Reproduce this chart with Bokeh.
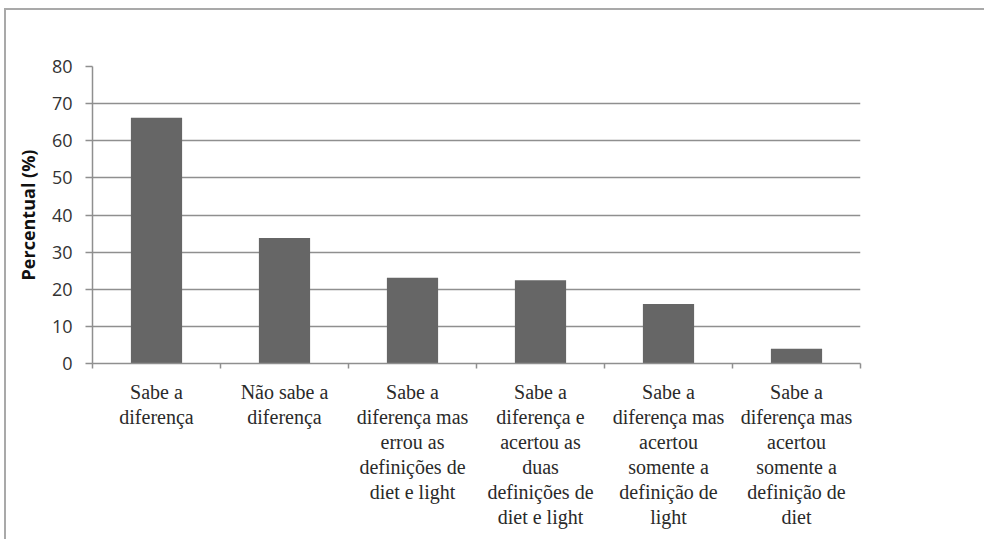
from bokeh.plotting import figure
from bokeh.models import Range1d, FixedTicker, LinearAxis, CustomJSTickFormatter
from bokeh.embed import file_html
from bokeh.resources import INLINE

# Response categories (one label per bar, wrapped as printed under the axis)
categories = [
    "Sabe a\ndiferença",
    "Não sabe a\ndiferença",
    "Sabe a\ndiferença mas\nerrou as\ndefinições de\ndiet e light",
    "Sabe a\ndiferença e\nacertou as\nduas\ndefinições de\ndiet e light",
    "Sabe a\ndiferença mas\nacertou\nsomente a\ndefinição de\nlight",
    "Sabe a\ndiferença mas\nacertou\nsomente a\ndefinição de\ndiet",
]
percentuais = [66.2, 33.8, 23.1, 22.4, 16.0, 4.0]
y_ticks = [0, 10, 20, 30, 40, 50, 60, 70, 80]

n = len(categories)
centers = [i + 0.5 for i in range(n)]
bounds = list(range(n + 1))
wrapped = [c.split("\n") for c in categories]
n_lines = max(len(w) for w in wrapped)

GRID = "#8f8f8f"
SERIF = "Liberation Serif"

p = figure(
    width=980, height=531,
    x_range=Range1d(0, n), y_range=Range1d(0, 80),
    output_backend="svg", toolbar_location=None,
    x_axis_location=None,
    min_border_left=86, min_border_right=126,
    min_border_top=56, min_border_bottom=178,
)
p.styles = {
    "margin-left": "4px",
    "margin-top": "8px",
    "border-left": "2px solid #a9a9a9",
    "border-top": "2px solid #a9a9a9",
}
p.outline_line_color = None
p.background_fill_color = "white"
p.border_fill_color = "white"

p.vbar(x=centers, top=percentuais, width=0.4, fill_color="#666666", line_color=None)


def line_axis(k):
    """One stacked axis carrying line k of every wrapped category name."""
    ticks = [c for c, w in zip(centers, wrapped) if len(w) > k]
    lines = [w[k] if len(w) > k else "" for w in wrapped]
    fmt = CustomJSTickFormatter(
        args=dict(lines=lines),
        code="return lines[Math.round(tick - 0.5)];",
    )
    ax = LinearAxis(
        ticker=FixedTicker(ticks=ticks, minor_ticks=bounds if k == 0 else []),
        formatter=fmt,
        major_tick_out=0, major_tick_in=0,
        minor_tick_out=5 if k == 0 else 0, minor_tick_in=0,
        minor_tick_line_color=GRID, minor_tick_line_width=1.5,
        axis_line_color=GRID if k == 0 else None, axis_line_width=1.5,
        major_label_standoff=12 if k == 0 else 0,
    )
    ax.major_label_text_font = SERIF
    ax.major_label_text_font_size = "20px"
    ax.major_label_text_color = "#2a2a2a"
    return ax


for k in range(n_lines):
    p.add_layout(line_axis(k), "below")

# y axis
ya = p.yaxis[0]
ya.ticker = FixedTicker(ticks=y_ticks)
ya.major_tick_out = 7
ya.major_tick_in = 0
ya.minor_tick_out = 0
ya.minor_tick_in = 0
ya.major_tick_line_color = GRID
ya.major_tick_line_width = 1.5
ya.axis_line_color = GRID
ya.axis_line_width = 1.5
ya.major_label_standoff = 13
ya.major_label_text_font = "Open Sans"
ya.major_label_text_font_size = "18px"
ya.major_label_text_color = "#333333"
ya.axis_label = "Percentual (%)"
ya.axis_label_text_font = "Open Sans"
ya.axis_label_text_font_style = "bold"
ya.axis_label_text_font_size = "18px"
ya.axis_label_text_color = "#111111"
ya.axis_label_standoff = 9

p.xgrid.visible = False
p.ygrid.ticker = FixedTicker(ticks=y_ticks)
p.ygrid.grid_line_color = GRID
p.ygrid.grid_line_width = 1.5

open("out.html", "w").write(file_html(p, INLINE))
